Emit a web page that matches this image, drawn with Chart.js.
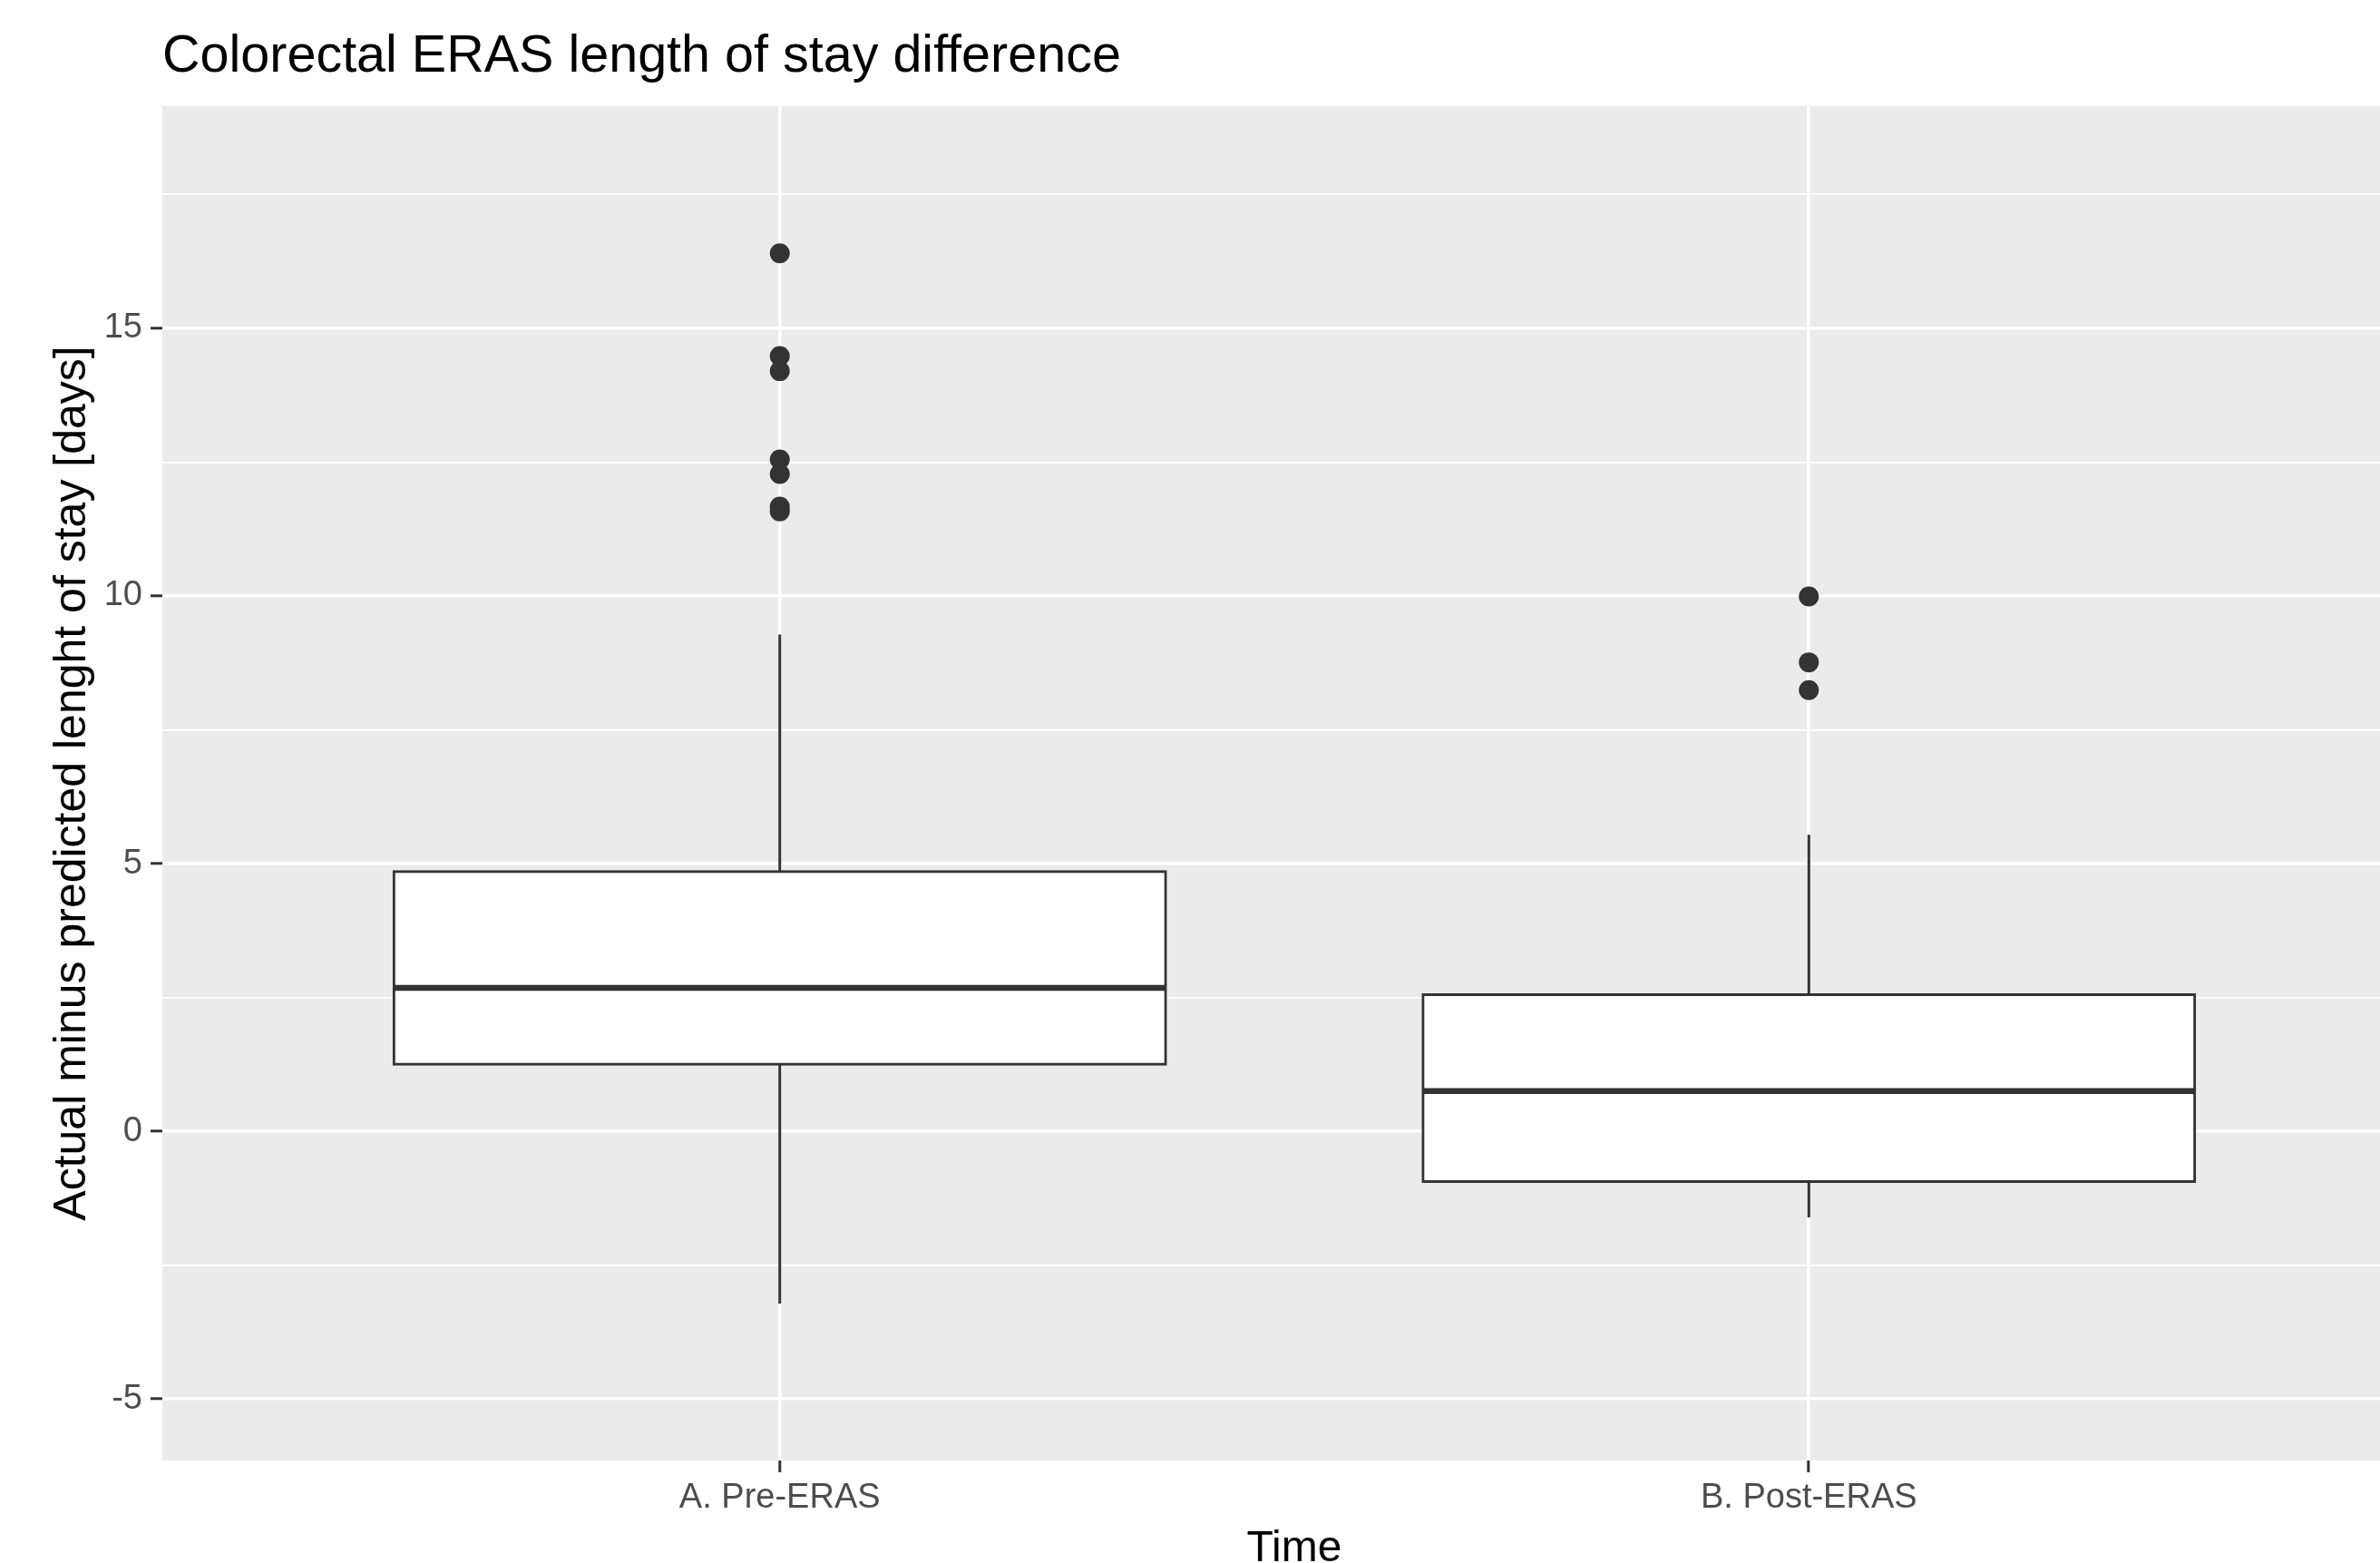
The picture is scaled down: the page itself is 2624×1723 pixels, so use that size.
<!DOCTYPE html>
<html>
<head>
<meta charset="utf-8">
<title>Colorectal ERAS length of stay difference</title>
<script src="https://cdn.jsdelivr.net/npm/chart.js@4"></script>
<style>
  html, body { margin: 0; padding: 0; background: #ffffff; overflow: hidden; }
  /* the panel runs past the right edge of the picture, so the plot is wider than the frame */
  #frame { width: 2624px; height: 1723px; overflow: hidden; }
  #plot { width: 2675px; height: 1723px; }
</style>
</head>
<body>
<div id="frame"><div id="plot"><canvas id="chart"></canvas></div></div>
<script>
// Groups on the x axis
const categories = ['A. Pre-ERAS', 'B. Post-ERAS'];

// Box statistics per group (days)
const lowerWhisker = [-3.22, -1.61];
const lowerQuartile = [1.25, -0.94];
const medians = [2.68, 0.75];
const upperQuartile = [4.85, 2.55];
const upperWhisker = [9.28, 5.54];

// Outliers per group
const outliersPre = [16.40, 14.48, 14.20, 12.55, 12.28, 11.67, 11.58];
const outliersPost = [9.99, 8.76, 8.24];

// Y axis ticks: labelled ones and the minor grid in between
const yMajorTicks = [-5, 0, 5, 10, 15];
const yMinorTicks = [-2.5, 2.5, 7.5, 12.5, 17.5];

const BOX_WIDTH = 0.75;
const INK = '#333333';
const FONT = '"Liberation Sans", Arial, Helvetica, sans-serif';

Chart.defaults.font.family = FONT;

/**
 * Is this y value one of the labelled ticks
 * @param {number} v - tick value
 * @returns {boolean}
 */
function isMajor(v) {
  return yMajorTicks.includes(v);
}

// Build the pieces of each box from the arrays above
const boxData = categories.map((c, i) => ({ x: i + 1, y: [lowerQuartile[i], upperQuartile[i]] }));

const whiskerData = [];
const medianData = [];
categories.forEach((c, i) => {
  const x = i + 1;
  whiskerData.push({ x, y: upperQuartile[i] }, { x, y: upperWhisker[i] }, { x, y: null });
  whiskerData.push({ x, y: lowerQuartile[i] }, { x, y: lowerWhisker[i] }, { x, y: null });
  medianData.push({ x: x - BOX_WIDTH / 2, y: medians[i] }, { x: x + BOX_WIDTH / 2, y: medians[i] }, { x, y: null });
});

const outlierData = [
  ...outliersPre.map(v => ({ x: 1, y: v })),
  ...outliersPost.map(v => ({ x: 2, y: v }))
];

// Grey panel behind the grid
const panelBackground = {
  id: 'panelBackground',
  beforeDraw(chart) {
    const { ctx, chartArea: a } = chart;
    ctx.save();
    ctx.fillStyle = '#EBEBEB';
    ctx.fillRect(a.left, a.top, a.right - a.left, a.bottom - a.top);
    ctx.restore();
  }
};

new Chart(document.getElementById('chart'), {
  type: 'bar',
  data: {
    datasets: [
      {
        type: 'bar',
        data: boxData,
        backgroundColor: '#FFFFFF',
        borderColor: INK,
        borderWidth: 3,
        borderSkipped: false,
        inflateAmount: 1.5,
        barPercentage: BOX_WIDTH,
        categoryPercentage: 1,
        order: 3
      },
      {
        type: 'line',
        data: whiskerData,
        borderColor: INK,
        borderWidth: 3,
        borderCapStyle: 'butt',
        pointRadius: 0,
        spanGaps: false,
        fill: false,
        order: 2
      },
      {
        type: 'line',
        data: medianData,
        borderColor: INK,
        borderWidth: 6.5,
        borderCapStyle: 'butt',
        pointRadius: 0,
        spanGaps: false,
        fill: false,
        order: 1
      },
      {
        type: 'line',
        data: outlierData,
        showLine: false,
        pointRadius: 11,
        pointBackgroundColor: INK,
        pointBorderColor: INK,
        pointBorderWidth: 0,
        order: 0
      }
    ]
  },
  options: {
    responsive: true,
    maintainAspectRatio: false,
    animation: false,
    devicePixelRatio: 1,
    events: [],
    layout: { padding: 0, autoPadding: false },
    plugins: {
      legend: { display: false },
      tooltip: { enabled: false },
      title: {
        display: true,
        text: 'Colorectal ERAS length of stay difference',
        align: 'start',
        fullSize: false,
        color: '#000000',
        font: { size: 57.5, weight: 'normal', lineHeight: 1.2 },
        padding: { top: 29, bottom: 19 }
      }
    },
    scales: {
      x: {
        type: 'linear',
        min: 0.4,
        max: 2.6,
        bounds: 'data',
        offset: false,
        afterBuildTicks: s => { s.ticks = categories.map((c, i) => ({ value: i + 1 })); },
        afterFit: s => { s.height = 113; },
        ticks: {
          callback: v => categories[v - 1] || '',
          color: '#4D4D4D',
          font: { size: 38 },
          padding: 6,
          maxRotation: 0,
          autoSkip: false
        },
        grid: {
          offset: false,
          color: '#FFFFFF',
          lineWidth: 3.6,
          tickColor: INK,
          tickLength: 13,
          tickWidth: 3
        },
        border: { display: false },
        title: {
          display: true,
          text: 'Time',
          color: '#000000',
          font: { size: 48, lineHeight: 0.625 },
          padding: { top: 0, bottom: 0 }
        }
      },
      y: {
        type: 'linear',
        min: -6.15,
        max: 19.15,
        bounds: 'data',
        afterBuildTicks: s => {
          s.ticks = [...yMinorTicks, ...yMajorTicks].sort((a, b) => a - b).map(v => ({ value: v }));
        },
        afterFit: s => { s.width = 179; },
        ticks: {
          callback: v => (isMajor(v) ? String(v) : ''),
          color: '#4D4D4D',
          font: { size: 38 },
          padding: 9,
          autoSkip: false
        },
        grid: {
          color: '#FFFFFF',
          lineWidth: c => (c.tick && isMajor(c.tick.value) ? 3.6 : 1.8),
          tickColor: c => (c.tick && isMajor(c.tick.value) ? INK : 'rgba(0,0,0,0)'),
          tickLength: 13,
          tickWidth: 3
        },
        border: { display: false },
        title: {
          display: true,
          text: 'Actual minus predicted lenght of stay [days]',
          color: '#000000',
          font: { size: 50, lineHeight: 1.2 },
          padding: { top: 50, bottom: 0 }
        }
      }
    }
  },
  plugins: [panelBackground]
});
</script>
</body>
</html>
